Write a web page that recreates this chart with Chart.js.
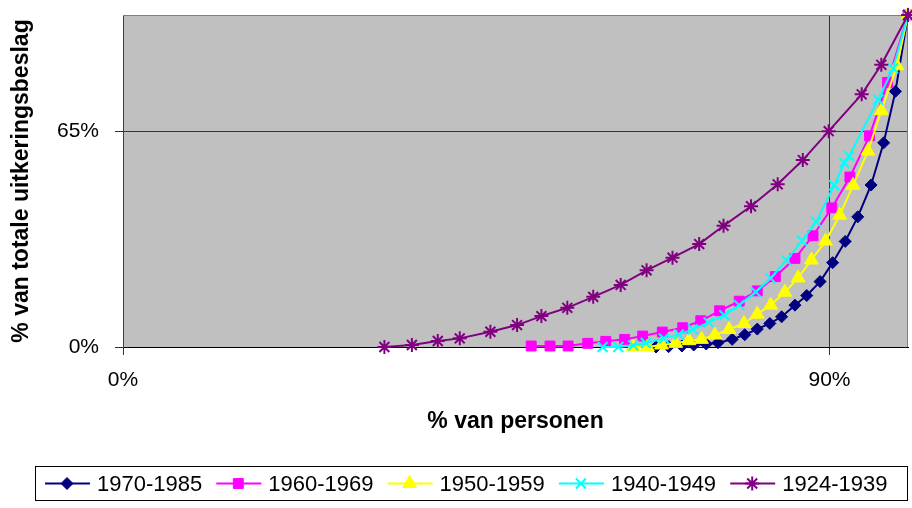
<!DOCTYPE html>
<html>
<head>
<meta charset="utf-8">
<script src="https://cdn.jsdelivr.net/npm/chart.js@4.4.0/dist/chart.umd.min.js"></script>
<style>
  html, body { margin: 0; padding: 0; background: #fff; }
</style>
</head>
<body>
<canvas id="chart" width="912" height="508"></canvas>
<script>
// cumulative share of persons (x, %) against share of total benefits (y, %)
const seriesLabels = ['1970-1985', '1960-1969', '1950-1959', '1940-1949', '1924-1939'];

const x1970 = [67.9, 69.5, 71.2, 72.7, 74.3, 75.8, 77.6, 79.2, 80.8, 82.4, 83.9, 85.6, 87.1, 88.8, 90.4, 92.0, 93.6, 95.3, 96.9, 98.4, 100];
const y1970 = [0, 0.1, 0.3, 0.6, 0.9, 1.3, 2.3, 3.7, 5.4, 7.1, 9.1, 12.6, 15.5, 19.7, 25.4, 31.8, 39.2, 48.8, 61.5, 77.0, 100];

const x1960 = [52.0, 54.4, 56.7, 59.2, 61.5, 63.9, 66.2, 68.7, 71.3, 73.6, 76.0, 78.5, 80.8, 83.1, 85.6, 87.9, 90.3, 92.6, 95.1, 97.4, 100];
const y1960 = [0.3, 0.3, 0.3, 1.1, 1.7, 2.3, 3.3, 4.5, 5.8, 7.9, 10.9, 13.8, 16.9, 21.2, 26.7, 33.5, 41.9, 51.2, 63.6, 79.7, 100];

const x1950 = [65.0, 66.8, 68.6, 70.4, 72.1, 73.7, 75.4, 77.2, 79.1, 80.8, 82.5, 84.3, 86.0, 87.7, 89.5, 91.3, 93.0, 94.9, 96.6, 98.6, 100];
const y1950 = [0, 0, 0.6, 1.1, 1.9, 2.3, 3.6, 5.3, 7.1, 9.9, 12.6, 16.5, 20.8, 26.2, 31.9, 39.7, 48.7, 59.0, 71.2, 84.7, 100];

const x1940 = [61.1, 63.1, 65.0, 66.6, 68.9, 70.8, 72.6, 74.6, 76.6, 78.5, 80.6, 82.5, 84.5, 86.5, 88.3, 90.6, 91.9, 92.5, 96.2, 98.1, 100];
const y1940 = [0, 0, 0.5, 1.2, 2.6, 3.8, 5.3, 7.4, 9.6, 12.6, 16.6, 20.7, 26.1, 32.0, 37.7, 48.7, 55.4, 57.5, 74.5, 83.9, 100];

const x1924 = [33.3, 36.8, 40.1, 42.9, 46.8, 50.2, 53.3, 56.6, 59.9, 63.4, 66.7, 70.0, 73.4, 76.5, 80.0, 83.4, 86.6, 89.9, 94.1, 96.6, 100];
const y1924 = [0, 0.6, 1.8, 2.6, 4.6, 6.6, 9.3, 11.8, 15.1, 18.7, 23.1, 26.9, 31.0, 36.5, 42.4, 49.0, 56.3, 65.0, 76.1, 85.0, 100];

const xTicks = [0, 90];
const yTicks = [0, 65];

const allX = [x1970, x1960, x1950, x1940, x1924];
const allY = [y1970, y1960, y1950, y1940, y1924];
const colors = ['#000080', '#FF00FF', '#FFFF00', '#00FFFF', '#800080'];
const markers = ['rectRot', 'rect', 'triangle', 'crossRot', 'star'];
const markerSize = [6, 7, 8, 7, 7];
const markerBorder = [1, 1, 1, 2, 2];

function toPoints(xs, ys) {
    return xs.map((x, i) => ({ x: x, y: ys[i] }));
}

Chart.defaults.font.family = '"Liberation Sans", Arial, sans-serif';
Chart.defaults.color = '#000';

const datasets = seriesLabels.map((label, i) => ({
    label: label,
    data: toPoints(allX[i], allY[i]),
    borderColor: colors[i],
    backgroundColor: colors[i],
    pointBackgroundColor: colors[i],
    pointBorderColor: colors[i],
    pointStyle: markers[i],
    pointRadius: markerSize[i],
    pointBorderWidth: markerBorder[i],
    borderWidth: 2,
    tension: 0,
    clip: false,
    order: seriesLabels.length - i,
}));

// scales should not push the plot area in for their labels
function noScalePadding(s) {
    s.paddingTop = 0;
    s.paddingBottom = 0;
    s.paddingLeft = 0;
    s.paddingRight = 0;
}

// gray plot area with a thin frame
const plotFrame = {
    id: 'plotFrame',
    beforeDraw(chart) {
        const a = chart.chartArea;
        const ctx = chart.ctx;
        ctx.save();
        ctx.fillStyle = '#C0C0C0';
        ctx.fillRect(a.left, a.top, a.right - a.left, a.bottom - a.top);
        ctx.restore();
    },
    beforeDatasetsDraw(chart) {
        const a = chart.chartArea;
        const ctx = chart.ctx;
        ctx.save();
        ctx.strokeStyle = '#808080';
        ctx.lineWidth = 1;
        ctx.beginPath();
        ctx.moveTo(a.left, a.top + 0.5);
        ctx.lineTo(a.right - 0.5, a.top + 0.5);
        ctx.lineTo(a.right - 0.5, a.bottom);
        ctx.stroke();
        ctx.restore();
    }
};

// legend in a framed box below the chart
const boxLegend = {
    id: 'boxLegend',
    afterDraw(chart) {
        const ctx = chart.ctx;
        ctx.save();
        ctx.strokeStyle = '#000';
        ctx.lineWidth = 1;
        ctx.strokeRect(35.5, 466.5, 872, 34);
        const cy = 483.5;
        chart.data.datasets.forEach((ds, i) => {
            const x0 = 45 + i * 171.3;
            ctx.strokeStyle = ds.borderColor;
            ctx.lineWidth = 2;
            ctx.beginPath();
            ctx.moveTo(x0, cy);
            ctx.lineTo(x0 + 45, cy);
            ctx.stroke();
            ctx.fillStyle = ds.backgroundColor;
            ctx.lineWidth = ds.pointBorderWidth;
            Chart.helpers.drawPoint(ctx, {
                pointStyle: ds.pointStyle,
                radius: ds.pointRadius,
                rotation: 0,
                borderWidth: ds.pointBorderWidth
            }, x0 + 22, cy);
            ctx.fillStyle = '#000';
            ctx.font = '22px "Liberation Sans", Arial, sans-serif';
            ctx.textBaseline = 'middle';
            ctx.fillText(ds.label, x0 + 52, cy + 1);
        });
        ctx.restore();
    }
};

new Chart(document.getElementById('chart'), {
    type: 'line',
    data: { datasets: datasets },
    plugins: [plotFrame, boxLegend],
    options: {
        responsive: false,
        animation: false,
        events: [],
        layout: { autoPadding: false, padding: { left: 0, right: 4, top: 15, bottom: 71 } },
        plugins: {
            legend: { display: false },
            tooltip: { enabled: false },
        },
        scales: {
            x: {
                type: 'linear',
                min: 0,
                max: 100,
                afterBuildTicks: s => { s.ticks = xTicks.map(v => ({ value: v })); },
                afterFit: s => { s.height = 90; noScalePadding(s); },
                ticks: {
                    callback: v => v + '%',
                    font: { size: 21 },
                    padding: 13,
                    maxRotation: 0,
                    autoSkip: false,
                },
                grid: { color: '#333', lineWidth: 1, tickLength: 8 },
                border: { color: '#000', width: 1 },
                title: {
                    display: true,
                    text: '% van personen',
                    font: { size: 23, weight: 'bold' },
                    padding: { top: 0, bottom: 2 },
                },
            },
            y: {
                type: 'linear',
                min: 0,
                max: 100,
                afterBuildTicks: s => { s.ticks = yTicks.map(v => ({ value: v })); },
                afterFit: s => { s.width = 123; noScalePadding(s); },
                ticks: {
                    callback: v => v + '%',
                    font: { size: 21 },
                    padding: 16,
                    autoSkip: false,
                },
                grid: { color: '#333', lineWidth: 1, tickLength: 8 },
                border: { color: '#404040', width: 1 },
                title: {
                    display: true,
                    text: '% van totale uitkeringsbeslag',
                    font: { size: 23, weight: 'bold' },
                    padding: { top: 8, bottom: 0 },
                },
            },
        },
    },
});
</script>
</body>
</html>
